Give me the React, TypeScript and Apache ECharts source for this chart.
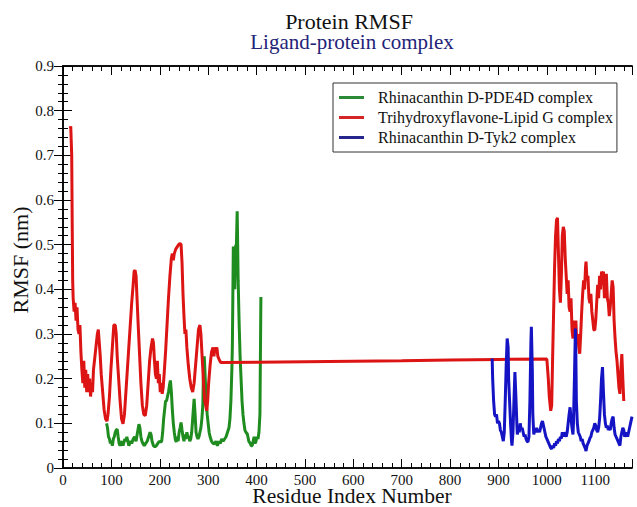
import React, { useEffect, useRef } from 'react';
import * as echarts from 'echarts';

const FONT = '"Liberation Serif", "Times New Roman", serif';

const titleText = 'Protein RMSF';
const subtitleText = 'Ligand-protein complex';
const xName = 'Residue Index Number';
const yName = 'RMSF (nm)';

const seriesNames = [
  'Rhinacanthin D-PDE4D complex',
  'Trihydroxyflavone-Lipid G complex',
  'Rhinacanthin D-Tyk2 complex',
];

// [residue index, RMSF (nm)]
const pde4dData: [number, number][] = [
  [90,0.10],[92,0.09],[94,0.07],[96,0.065],[98,0.055],[100,0.06],[102,0.05],[104,0.065],[106,0.07],[108,0.08],
  [110,0.085],[112,0.087],[114,0.07],[116,0.055],[118,0.05],[120,0.055],[122,0.06],[124,0.05],[126,0.058],[128,0.065],
  [130,0.06],[132,0.07],[134,0.06],[136,0.05],[138,0.055],[140,0.06],[142,0.055],[145,0.065],[148,0.07],[151,0.06],
  [154,0.08],[157,0.098],[159,0.09],[161,0.07],[163,0.06],[165,0.055],[168,0.05],[171,0.055],[174,0.06],[177,0.07],
  [180,0.08],[182,0.075],[184,0.06],[187,0.05],[190,0.047],[193,0.05],[196,0.055],[199,0.06],[202,0.058],[204,0.06],
  [206,0.08],[208,0.11],[210,0.13],[212,0.15],[214,0.15],[216,0.16],[218,0.17],[220,0.185],[222,0.196],[224,0.17],
  [226,0.13],[228,0.10],[230,0.08],[232,0.065],[234,0.058],[236,0.07],[238,0.06],[240,0.08],[242,0.09],[244,0.102],
  [246,0.085],[248,0.07],[250,0.06],[252,0.075],[254,0.065],[256,0.08],[258,0.07],[260,0.07],[262,0.06],[264,0.065],
  [266,0.08],[268,0.11],[270,0.14],[271,0.155],[273,0.12],[275,0.08],[277,0.07],[279,0.065],[281,0.07],[283,0.08],
  [285,0.09],[287,0.11],[289,0.14],[290,0.20],[292,0.25],[294,0.20],[296,0.15],[298,0.12],[300,0.10],[302,0.08],
  [304,0.07],[307,0.06],[310,0.055],[313,0.054],[316,0.06],[319,0.05],[322,0.06],[325,0.055],[328,0.065],[331,0.06],
  [334,0.065],[337,0.07],[340,0.08],[343,0.09],[345,0.11],[347,0.15],[349,0.22],[350,0.27],[351,0.38],[352,0.496],
  [353,0.47],[354,0.49],[355,0.40],[356,0.45],[357,0.50],[358,0.48],[359,0.53],[360,0.575],[361,0.50],[362,0.42],
  [364,0.325],[366,0.25],[368,0.20],[370,0.15],[372,0.12],[374,0.10],[376,0.085],[378,0.08],[381,0.076],[384,0.06],
  [387,0.055],[389,0.05],[391,0.05],[393,0.06],[395,0.07],[397,0.055],[399,0.06],[401,0.07],[403,0.065],[405,0.08],
  [407,0.12],[408,0.25],[409,0.383],
];

const lipidGData: [number, number][] = [
  [15,0.76],[16,0.765],[18,0.70],[19,0.55],[20,0.42],[21,0.38],[23,0.35],[25,0.37],[27,0.33],[29,0.36],
  [31,0.31],[33,0.30],[35,0.32],[37,0.26],[39,0.22],[41,0.19],[43,0.24],[45,0.18],[47,0.22],[49,0.17],
  [51,0.21],[53,0.17],[55,0.20],[57,0.16],[59,0.19],[61,0.17],[63,0.22],[65,0.24],[68,0.27],[71,0.30],
  [73,0.31],[75,0.28],[77,0.25],[79,0.21],[82,0.17],[85,0.13],[88,0.11],[91,0.105],[93,0.12],[96,0.16],
  [99,0.22],[102,0.27],[105,0.32],[108,0.32],[110,0.30],[112,0.25],[115,0.20],[118,0.15],[121,0.11],[124,0.099],
  [127,0.12],[130,0.17],[133,0.22],[136,0.27],[139,0.32],[142,0.37],[145,0.41],[147,0.44],[149,0.443],[151,0.43],
  [153,0.38],[155,0.33],[158,0.26],[161,0.19],[164,0.14],[167,0.12],[170,0.117],[173,0.14],[176,0.19],[179,0.24],
  [182,0.27],[185,0.29],[187,0.28],[189,0.24],[191,0.21],[193,0.20],[195,0.24],[197,0.19],[199,0.21],[201,0.17],
  [203,0.19],[205,0.166],[207,0.18],[209,0.21],[212,0.26],[215,0.32],[218,0.38],[221,0.43],[224,0.47],[226,0.48],
  [228,0.465],[230,0.48],[233,0.49],[236,0.495],[239,0.50],[242,0.503],[244,0.50],[246,0.46],[248,0.39],[250,0.34],
  [252,0.30],[254,0.31],[256,0.27],[259,0.23],[262,0.20],[265,0.18],[268,0.17],[271,0.19],[274,0.23],[277,0.27],
  [280,0.31],[283,0.32],[285,0.30],[287,0.26],[289,0.22],[291,0.18],[293,0.15],[295,0.14],[297,0.128],[299,0.15],
  [301,0.19],[304,0.23],[307,0.26],[310,0.27],[312,0.25],[314,0.27],[316,0.26],[318,0.27],[320,0.25],[322,0.245],
  [324,0.24],[326,0.236],[400,0.237],[500,0.238],[600,0.239],[700,0.240],[800,0.242],[900,0.243],[1000,0.244],
  [1001,0.243],[1003,0.20],[1005,0.16],[1008,0.128],[1010,0.14],[1012,0.25],[1014,0.35],[1016,0.45],[1018,0.52],
  [1020,0.555],[1022,0.56],[1024,0.48],[1026,0.40],[1028,0.37],[1030,0.43],[1032,0.52],[1034,0.54],[1036,0.53],
  [1038,0.47],[1040,0.43],[1042,0.39],[1044,0.42],[1046,0.36],[1048,0.35],[1050,0.38],[1052,0.31],[1054,0.29],
  [1056,0.33],[1058,0.30],[1060,0.33],[1062,0.28],[1064,0.30],[1066,0.27],[1068,0.256],[1070,0.30],[1072,0.35],
  [1074,0.39],[1076,0.42],[1078,0.40],[1080,0.45],[1081,0.462],[1083,0.42],[1085,0.43],[1087,0.38],[1089,0.369],
  [1091,0.39],[1093,0.35],[1095,0.33],[1097,0.31],[1099,0.308],[1101,0.33],[1103,0.37],[1105,0.41],[1107,0.38],
  [1109,0.43],[1111,0.40],[1113,0.44],[1115,0.41],[1117,0.44],[1119,0.38],[1121,0.42],[1123,0.435],[1125,0.38],
  [1127,0.37],[1129,0.34],[1131,0.36],[1133,0.39],[1135,0.42],[1137,0.405],[1139,0.33],[1141,0.29],[1143,0.26],
  [1145,0.24],[1147,0.21],[1149,0.18],[1151,0.166],[1153,0.22],[1155,0.255],[1157,0.20],[1159,0.15],
];

const tyk2Data: [number, number][] = [
  [887,0.245],[888,0.20],[890,0.15],[892,0.12],[894,0.115],[896,0.12],[898,0.10],[900,0.105],[902,0.10],[904,0.085],
  [906,0.08],[908,0.07],[910,0.06],[912,0.08],[914,0.15],[916,0.23],[918,0.29],[920,0.27],[921,0.20],[923,0.15],
  [925,0.10],[927,0.06],[928,0.05],[930,0.08],[932,0.15],[934,0.215],[936,0.16],[938,0.10],[939,0.075],[941,0.09],
  [943,0.08],[945,0.10],[947,0.085],[949,0.09],[951,0.08],[953,0.07],[955,0.075],[957,0.065],[959,0.06],[961,0.058],
  [963,0.07],[965,0.15],[967,0.28],[968,0.316],[970,0.22],[971,0.12],[973,0.075],[975,0.085],[977,0.08],[979,0.09],
  [981,0.08],[983,0.085],[985,0.08],[987,0.09],[989,0.10],[991,0.105],[992,0.106],[994,0.09],[996,0.08],[998,0.07],
  [1000,0.065],[1002,0.06],[1004,0.055],[1006,0.05],[1008,0.045],[1010,0.043],[1012,0.05],[1014,0.045],[1016,0.055],
  [1018,0.05],[1020,0.06],[1022,0.055],[1024,0.065],[1026,0.06],[1028,0.07],[1030,0.066],[1032,0.08],[1034,0.07],
  [1036,0.08],[1038,0.075],[1040,0.07],[1042,0.08],[1044,0.10],[1046,0.12],[1048,0.136],[1050,0.11],[1052,0.09],
  [1054,0.075],[1055,0.10],[1057,0.20],[1059,0.312],[1060,0.25],[1061,0.15],[1063,0.10],[1065,0.08],[1067,0.075],
  [1069,0.07],[1071,0.06],[1073,0.065],[1075,0.055],[1077,0.05],[1079,0.045],[1081,0.038],[1083,0.05],[1085,0.055],
  [1087,0.06],[1089,0.067],[1091,0.07],[1093,0.08],[1095,0.085],[1097,0.09],[1099,0.10],[1101,0.095],[1103,0.085],
  [1105,0.08],[1107,0.09],[1109,0.11],[1111,0.15],[1113,0.20],[1115,0.226],[1117,0.17],[1119,0.12],[1121,0.10],
  [1123,0.09],[1125,0.095],[1127,0.085],[1129,0.09],[1131,0.085],[1133,0.10],[1135,0.11],[1137,0.115],[1139,0.09],
  [1141,0.075],[1143,0.07],[1145,0.065],[1147,0.06],[1149,0.055],[1151,0.05],[1153,0.07],[1155,0.08],[1157,0.09],
  [1159,0.085],[1161,0.07],[1163,0.075],[1165,0.08],[1167,0.07],[1169,0.08],[1171,0.09],[1173,0.10],[1175,0.11],
  [1176,0.115],
];

const seriesColors = ['#1f8c1f', '#dc1414', '#1414c4'];
const legendColors = ['#2a8a38', '#d42626', '#26268c'];

const X_MIN = 0;
const X_MAX = 1176;
const Y_MIN = 0;
const Y_MAX = 0.9;

function xAxisDef(position: string, interval: number, tickLen: number, labels: boolean) {
  return {
    type: 'value',
    position,
    min: X_MIN,
    max: X_MAX,
    interval,
    axisLine: { show: true, lineStyle: { color: '#000', width: 1.5 } },
    axisTick: { show: true, inside: true, length: tickLen, lineStyle: { color: '#000', width: 1 } },
    axisLabel: labels
      ? {
          show: true,
          margin: 4,
          color: '#111',
          fontFamily: FONT,
          fontSize: 15,
          formatter: (v: number) => (v % 100 === 0 ? String(v) : ''),
        }
      : { show: false },
    splitLine: { show: false },
  };
}

function yAxisDef(position: string, labels: boolean) {
  return {
    type: 'value',
    position,
    min: Y_MIN,
    max: Y_MAX,
    interval: 0.1,
    axisLine: { show: true, lineStyle: { color: '#000', width: 1.5 } },
    axisTick: { show: true, inside: true, length: 9, lineStyle: { color: '#000', width: 1 } },
    minorTick: { show: true, splitNumber: 5, length: 5, lineStyle: { color: '#000', width: 1 } },
    axisLabel: labels
      ? {
          show: true,
          margin: 9,
          color: '#111',
          fontFamily: FONT,
          fontSize: 15,
          formatter: (v: number) => (v === 0 ? '0' : v.toFixed(1)),
        }
      : { show: false },
    splitLine: { show: false },
  };
}

export default function App() {
  const ref = useRef<HTMLDivElement>(null);
  useEffect(() => {
    document.body.style.margin = '0';
    const chart = echarts.init(ref.current!, null, { renderer: 'svg' });
    const datasets = [pde4dData, lipidGData, tyk2Data];
    const option: any = {
      animation: false,
      backgroundColor: '#fff',
      grid: { left: 63, right: 5, top: 66, bottom: 39 },
      xAxis: [
        xAxisDef('bottom', 100, 9, true),
        xAxisDef('bottom', 20, 5, false),
        xAxisDef('top', 100, 9, false),
        xAxisDef('top', 20, 5, false),
      ],
      yAxis: [yAxisDef('left', true), yAxisDef('right', false)],
      legend: {
        data: seriesNames,
        orient: 'vertical',
        left: 333,
        top: 83,
        padding: [6, 4, 6, 6],
        itemGap: 3,
        itemWidth: 25,
        itemHeight: 3,
        icon: 'rect',
        backgroundColor: '#fff',
        borderColor: '#333',
        borderWidth: 1,
        textStyle: {
          fontFamily: FONT,
          fontSize: 16,
          lineHeight: 17,
          color: '#111',
          padding: [0, 0, 0, 9],
        },
      },
      graphic: [
        {
          type: 'text', x: 349, y: 21.5,
          style: { text: titleText, font: `22px ${FONT}`, lineHeight: 19, fill: '#111', align: 'center', verticalAlign: 'middle', textAlign: 'center', textVerticalAlign: 'middle' },
        },
        {
          type: 'text', x: 352, y: 42,
          style: { text: subtitleText, font: `21px ${FONT}`, lineHeight: 19, fill: '#232378', align: 'center', verticalAlign: 'middle', textAlign: 'center', textVerticalAlign: 'middle' },
        },
        {
          type: 'text', x: 352, y: 496,
          style: { text: xName, font: `21.5px ${FONT}`, lineHeight: 18, fill: '#111', align: 'center', verticalAlign: 'middle', textAlign: 'center', textVerticalAlign: 'middle' },
        },
        {
          type: 'text', x: 20.5, y: 260, rotation: Math.PI / 2,
          style: { text: yName, font: `22px ${FONT}`, fill: '#111', align: 'center', verticalAlign: 'middle', textAlign: 'center', textVerticalAlign: 'middle' },
        },
      ],
      series: seriesNames.map((name, i) => ({
        name,
        type: 'line',
        xAxisIndex: 0,
        yAxisIndex: 0,
        data: datasets[i],
        showSymbol: false,
        symbol: 'none',
        lineStyle: { width: 3, color: seriesColors[i] },
        itemStyle: { color: legendColors[i] },
        z: 2 + i,
      })),
    };
    chart.setOption(option);
    return () => chart.dispose();
  }, []);
  return <div ref={ref} style={{ width: 637, height: 507 }} />;
}
